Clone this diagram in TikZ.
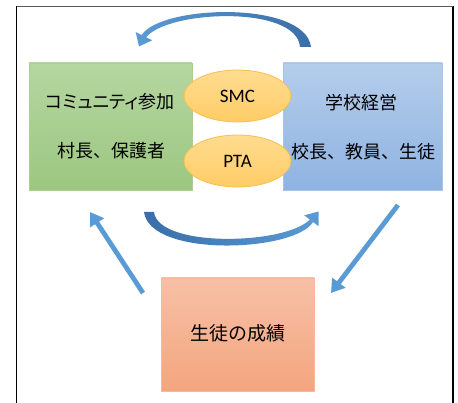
\documentclass[tikz,border=0pt]{standalone}
\usepackage{fontspec}
\newfontfamily\jp{Noto Sans CJK JP}
\newfontfamily\jpp[RawFeature=+palt]{Noto Sans CJK JP}
\newfontfamily\lat{Carlito}
\usetikzlibrary{arrows.meta,shapes.geometric}
\definecolor{arrowblue}{HTML}{5B9BD5}
\definecolor{darkblue}{HTML}{3A6EA8}
\definecolor{grtop}{HTML}{B5D6A1}
\definecolor{grbot}{HTML}{9CC780}
\definecolor{grline}{HTML}{A9CF93}
\definecolor{bltop}{HTML}{B4CDEB}
\definecolor{blbot}{HTML}{8FB3E1}
\definecolor{blline}{HTML}{A6C3E8}
\definecolor{ortop}{HTML}{F7C0A6}
\definecolor{orbot}{HTML}{F4A57E}
\definecolor{orline}{HTML}{F6B89A}
\definecolor{eltop}{HTML}{FFDC90}
\definecolor{elbot}{HTML}{FFCC66}
\definecolor{elline}{HTML}{F6C050}
\tikzset{
  box/.style={draw, line width=0.8pt, minimum width=#1, inner sep=0pt, outer sep=0pt},
  oval/.style={ellipse, draw=elline, line width=0.8pt, top color=eltop, bottom color=elbot,
    minimum width=107pt, minimum height=52pt, inner sep=0pt, font=\lat\fontsize{19}{21}\selectfont},
  jtext/.style={font=\jp\fontsize{18}{20}\selectfont, inner sep=0pt},
  straightarrow/.style={draw=arrowblue, line width=4.8pt, -{Triangle[width=16pt,length=13pt]}}
}
\begin{document}
\begin{tikzpicture}[x=1pt,y=-1pt]
\useasboundingbox (0,0) rectangle (458,403);
\clip (0,0) rectangle (458,403);
% frame
\draw[line width=1.3pt, black] (16.5,420) -- (16.5,6.5);
\draw[line width=1.3pt, black] (453,420) -- (453,6.5);
\draw[line width=1.3pt, black!65] (16.5,6.5) -- (453,6.5);
% boxes
\node[box=163pt, minimum height=127pt, draw=grline, top color=grtop, bottom color=grbot] (comm) at (110.5,126.5) {};
\node[box=159pt, minimum height=127pt, draw=blline, top color=bltop, bottom color=blbot] (school) at (362.5,126.5) {};
\node[box=153pt, minimum height=113pt, draw=orline, top color=ortop, bottom color=orbot] (result) at (238,334.5) {};
% texts
\node[jtext, font=\jpp\fontsize{18}{20}\selectfont] (commA) at (110,102) {コミュニティ参加};
\node[jtext] (commB) at (111,151) {村長、保護者};
\node[jtext] (schA) at (361,103) {学校経営};
\node[jtext] (schB) at (363,152) {校長、教員、生徒};
\node[jtext, font=\jp\fontsize{19}{21}\selectfont] (resT) at (238,333) {生徒の成績};
% ellipses
\node[oval] (smc) at (237.5,96) {SMC};
\node[oval] (pta) at (237.5,161) {PTA};
% top curved arrow
\shade[left color=arrowblue, right color=darkblue]
  (311,47) .. controls (305,0) and (160,5) .. (141.7,35.1)
  -- (135.7,32.1) -- (139,46.5) -- (152.1,40.3) -- (146.1,37.3)
  .. controls (168,10) and (297,5) .. (300,47) -- cycle;
% bottom curved arrow
\shade[left color=darkblue, right color=arrowblue]
  (144,212) .. controls (150,258) and (295,252) .. (313,222)
  -- (318.6,226.2) -- (318.5,211.5) -- (304.2,215.4) -- (309.8,219.6)
  .. controls (285,245) and (158,248) .. (154,212) -- cycle;
% straight arrows
\coordinate (la) at (143,293);
\coordinate (lb) at (90,212);
\coordinate (ra) at (398,205);
\coordinate (rb) at (331,293);
\draw[straightarrow] (la) -- (lb);
\draw[straightarrow] (ra) -- (rb);
\end{tikzpicture}
\end{document}
